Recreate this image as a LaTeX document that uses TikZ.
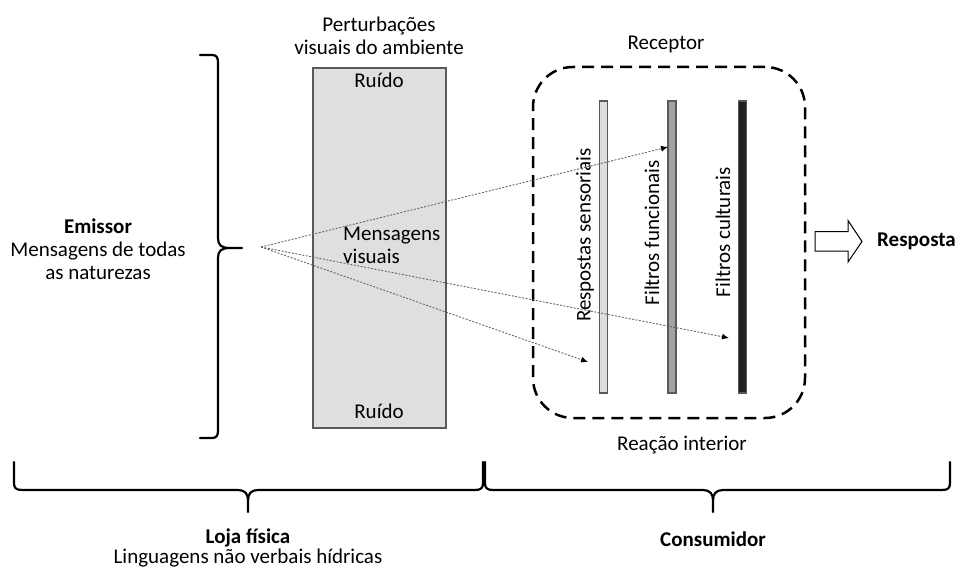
\documentclass[tikz,border=0pt]{standalone}
\usepackage{fontspec}
\setmainfont{Carlito}
\usetikzlibrary{arrows.meta}
\definecolor{boxgray}{HTML}{E0DFDF}
\definecolor{edgegray}{HTML}{595959}
\definecolor{barA}{HTML}{DEDEDE}
\definecolor{barB}{HTML}{A3A3A3}
\definecolor{barC}{HTML}{1E2124}
\tikzset{
  lbl/.style={font=\fontsize{21}{23}\selectfont, inner sep=0pt, align=center, text=black},
  blbl/.style={lbl, font=\fontsize{21}{23}\selectfont\bfseries},
  bar/.style={draw=edgegray, line width=1.2pt, inner sep=0pt, outer sep=0pt, minimum width=8pt, minimum height=292pt},
  msg/.style={draw=black!60, line width=0.9pt, dash pattern=on 2pt off 1.5pt, -{Latex[color=black,length=7pt,width=6pt]}},
  bigbrace/.style={draw=black, line width=2.2pt, line cap=round, line join=round}
}
\begin{document}
\begin{tikzpicture}[x=1pt,y=-1pt]
\useasboundingbox (0,0) rectangle (957,569);

% left brace
\draw[bigbrace] (200,55) -- (212,55) .. controls (216,55) and (218,57) .. (218,62)
   -- (218,238) .. controls (218,245) and (221,248) .. (230,248) -- (242,248);
\draw[bigbrace] (230,248) .. controls (221,248) and (218,251) .. (218,258)
   -- (218,431) .. controls (218,436) and (216,438) .. (212,438) -- (200,438);
\node[lbl] (emissor) at (98,249) {\textbf{Emissor}\\Mensagens de todas\\as naturezas};

% noise box
\node[draw=edgegray, fill=boxgray, line width=1.5pt, inner sep=0pt, outer sep=0pt,
      minimum width=133pt, minimum height=360pt] (ruidobox) at (379.5,248) {};
\node[lbl] (pert) at (379,36) {Perturbações\\visuais do ambiente};
\node[lbl] (ruido1) at (379,80) {Ruído};
\node[lbl] (ruido2) at (379,411) {Ruído};
\node[lbl, align=left, anchor=west] (mensvis) at (343,245) {Mensagens\\visuais};

% receptor
\node[draw=black, line width=2.5pt, dash pattern=on 12pt off 7pt, rounded corners=40pt,
      inner sep=0pt, minimum width=272pt, minimum height=351pt] (receptor) at (669,242.5) {};
\node[lbl] (receptorlbl) at (666,44) {Receptor};
\node[lbl] (reacao) at (682,445) {Reação interior};

\node[bar, fill=barA] (bar1) at (603.5,247) {};
\node[bar, fill=barB] (bar2) at (672,247) {};
\node[bar, fill=barC] (bar3) at (742.5,247) {};
\node[lbl, rotate=90] (resp) at (585,235) {Respostas sensoriais};
\node[lbl, rotate=90] (funcionais) at (652,233) {Filtros funcionais};
\node[lbl, rotate=90] (culturais) at (723,232) {Filtros culturais};

% message arrows
\coordinate (src) at (261,247);
\coordinate (end1) at (668,147);
\coordinate (end2) at (729,338);
\coordinate (end3) at (588,362);
\draw[msg] (src) -- (end1);
\draw[msg] (src) -- (end2);
\draw[msg] (src) -- (end3);

% response arrow
\draw[line width=1pt, fill=white] (815,231.5) -- (848,231.5) -- (848,220.5) -- (862,241.5)
   -- (848,262) -- (848,251) -- (815,251) -- cycle;
\node[blbl, anchor=west] (resposta) at (877,241) {Resposta};

% bottom braces
\draw[bigbrace] (14,462) -- (14,483) .. controls (14,488) and (16,490) .. (22,490)
   -- (238,490) .. controls (245,490) and (248,494) .. (248,500) -- (248,512);
\draw[bigbrace] (248,500) .. controls (248,494) and (251,490) .. (258,490)
   -- (475,490) .. controls (481,490) and (483,488) .. (483,483) -- (483,462);
\draw[bigbrace] (485,462) -- (485,483) .. controls (485,488) and (487,490) .. (493,490)
   -- (703,490) .. controls (710,490) and (713,494) .. (713,500) -- (713,512);
\draw[bigbrace] (713,500) .. controls (713,494) and (716,490) .. (723,490)
   -- (942,490) .. controls (948,490) and (950,488) .. (950,483) -- (950,462);
\node[blbl] (loja) at (248,538) {Loja física};
\node[lbl] (linguagens) at (248,558.5) {Linguagens não verbais hídricas};
\node[blbl] (consumidor) at (713,539) {Consumidor};
\end{tikzpicture}
\end{document}
